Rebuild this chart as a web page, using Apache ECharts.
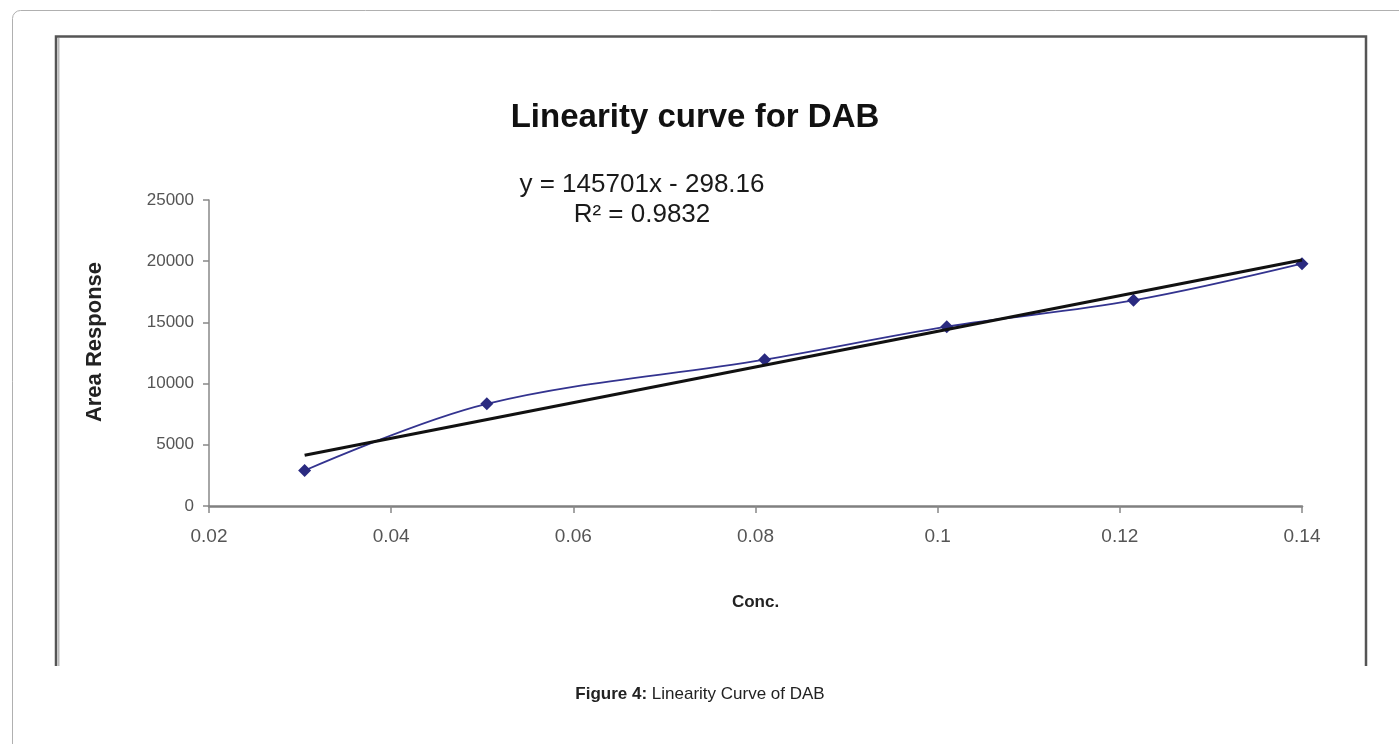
<!DOCTYPE html>
<html>
<head>
<meta charset="utf-8">
<script src="https://cdn.jsdelivr.net/npm/echarts@6/dist/echarts.min.js"></script>
<style>
html,body{margin:0;padding:0;background:#fff;}
#chart{width:1399px;height:744px;}
</style>
</head>
<body>
<div id="chart"></div>
<script>
const concValues = [0.0305, 0.0505, 0.081, 0.101, 0.1215, 0.14];
const areaValues = [2900, 8350, 11950, 14650, 16800, 19800];
const trendX = [0.0305, 0.14];
const trendY = [4150, 20100];
const xTicks = {min: 0.02, max: 0.14, interval: 0.02};
const yTicks = {min: 0, max: 25000, interval: 5000};
const titleText = 'Linearity curve for DAB';
const equationText = 'y = 145701x - 298.16';
const r2Text = 'R² = 0.9832';
const xAxisName = 'Conc.';
const yAxisName = 'Area Response';
const captionBold = 'Figure 4:';
const captionText = ' Linearity Curve of DAB';

const chart = echarts.init(document.getElementById('chart'));
const font = 'Liberation Sans, Arial, sans-serif';
chart.setOption({
  animation: false,
  backgroundColor: '#fff',
  title: [
    {text: titleText, left: 690, top: 96, textAlign: 'center',
     textStyle: {fontFamily: font, fontSize: 33, fontWeight: 'bold', color: '#111'}}
  ],
  graphic: [
    {type: 'rect', shape: {x: 12.5, y: 10.5, width: 1420, height: 800, r: 8},
     style: {fill: 'none', stroke: '#b0b0b0', lineWidth: 1}, silent: true},
    {type: 'polyline', shape: {points: [[56, 666], [56, 36.5], [1366, 36.5], [1366, 666]]},
     style: {fill: 'none', stroke: '#555', lineWidth: 2.5}, silent: true},
    {type: 'line', shape: {x1: 58.5, y1: 38, x2: 58.5, y2: 666},
     style: {stroke: '#bbb', lineWidth: 2}, silent: true},
    {type: 'text', style: {text: equationText, x: 642, y: 185, align: 'center', verticalAlign: 'middle',
      font: '26px ' + font, fill: '#1a1a1a'}},
    {type: 'text', style: {text: r2Text, x: 642, y: 215, align: 'center', verticalAlign: 'middle',
      font: '26px ' + font, fill: '#1a1a1a'}},
    {type: 'text', style: {
      text: '{b|' + captionBold + '}{n|' + captionText + '}', x: 700, y: 694,
      align: 'center', verticalAlign: 'middle',
      rich: {
        b: {fontFamily: font, fontSize: 17, fontWeight: 'bold', fill: '#222'},
        n: {fontFamily: font, fontSize: 17, fontWeight: 'normal', fill: '#222'}
      }}}
  ],
  grid: {left: 209, right: 97, top: 200, bottom: 238, containLabel: false},
  xAxis: {
    type: 'value', min: xTicks.min, max: xTicks.max, interval: xTicks.interval,
    name: xAxisName, nameLocation: 'middle', nameGap: 88,
    nameTextStyle: {fontFamily: font, fontSize: 17, fontWeight: 'bold', color: '#222'},
    axisLine: {show: true, onZero: false, lineStyle: {color: '#808080', width: 2.5}},
    axisTick: {show: true, length: 7, lineStyle: {color: '#888', width: 1.5}},
    axisLabel: {fontFamily: font, fontSize: 19, color: '#555', margin: 21},
    splitLine: {show: false}
  },
  yAxis: {
    type: 'value', min: yTicks.min, max: yTicks.max, interval: yTicks.interval,
    name: yAxisName, nameLocation: 'middle', nameGap: 103, nameRotate: 90,
    nameTextStyle: {fontFamily: font, fontSize: 22, fontWeight: 'bold', color: '#222',
      padding: [0, 0, 0, 22]},
    axisLine: {show: true, lineStyle: {color: '#888', width: 1.5}},
    axisTick: {show: true, length: 6, lineStyle: {color: '#888', width: 1.5}},
    axisLabel: {fontFamily: font, fontSize: 17, color: '#555', margin: 15,
      formatter: v => String(v)},
    splitLine: {show: false}
  },
  series: [
    {type: 'line', smooth: 0.35, data: concValues.map((x, i) => [x, areaValues[i]]),
     symbol: 'diamond', symbolSize: 13, showSymbol: true,
     lineStyle: {color: '#33338f', width: 1.8},
     itemStyle: {color: '#2a2a80'}, z: 2},
    {type: 'line', data: trendX.map((x, i) => [x, trendY[i]]), symbol: 'none',
     lineStyle: {color: '#111', width: 3.2}, z: 3}
  ]
});
</script>
</body>
</html>
